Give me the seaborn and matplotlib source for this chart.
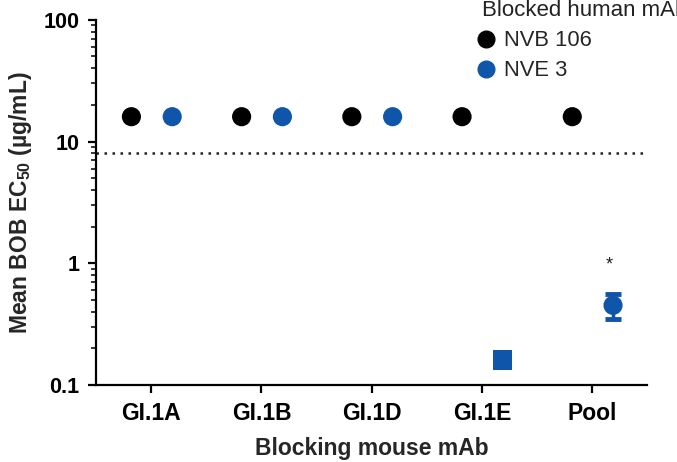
import numpy as np
import pandas as pd
import matplotlib
matplotlib.use("Agg")
import matplotlib.pyplot as plt
import seaborn as sns
from matplotlib.ticker import LogLocator, NullFormatter
from matplotlib.lines import Line2D

# ---- data ----
categories = ["GI.1A", "GI.1B", "GI.1D", "GI.1E", "Pool"]
nvb106_values = [16, 16, 16, 16, 16]
nve3_values = [16, 16, 16, 0.16, 0.45]
nve3_markers = ["o", "o", "o", "s", "o"]
nve3_err_low = [None, None, None, None, 0.35]
nve3_err_high = [None, None, None, None, 0.56]
threshold = 8
significance = ["", "", "", "", "*"]
series_names = ["NVB 106", "NVE 3"]
colors = {"NVB 106": "#000000", "NVE 3": "#0F56AA"}

sns.set_theme(style="ticks")
plt.rcParams["font.family"] = ["Liberation Sans", "DejaVu Sans"]
plt.rcParams["mathtext.fontset"] = "custom"
plt.rcParams["mathtext.bf"] = "Liberation Sans:bold"
plt.rcParams["mathtext.rm"] = "Liberation Sans"

rows = []
for i, c in enumerate(categories):
    rows.append(dict(cat=c, idx=i, series="NVB 106", value=nvb106_values[i], marker="o"))
    rows.append(dict(cat=c, idx=i, series="NVE 3", value=nve3_values[i], marker=nve3_markers[i]))
df = pd.DataFrame(rows)
offsets = {"NVB 106": -0.18, "NVE 3": 0.19}
df["x"] = df["idx"] + df["series"].map(offsets)

fig = plt.figure(figsize=(6.77, 4.62), dpi=100)
ax = fig.add_axes([0.142, 0.167, 0.814, 0.790])

sns.scatterplot(data=df, x="x", y="value", hue="series", style="marker",
                markers={"o": "o", "s": "s"}, palette=colors, s=190,
                edgecolor="none", ax=ax, legend=False, zorder=3)

# error bars and significance marks
for i in range(len(categories)):
    lo, hi = nve3_err_low[i], nve3_err_high[i]
    if lo is not None:
        v = nve3_values[i]
        ax.errorbar(i + offsets["NVE 3"], v, yerr=[[v - lo], [hi - v]],
                    fmt="none", ecolor=colors["NVE 3"], elinewidth=2.5,
                    capsize=5.5, capthick=3.5, zorder=2)
    if significance[i]:
        ax.text(i + offsets["NVE 3"] - 0.03, nve3_err_high[i] * 1.72, significance[i],
                ha="center", va="center", fontsize=13, color="#222222")

ax.axhline(threshold, ls=(0, (1, 2.2)), color="#222222", lw=1.8, zorder=1)

ax.set_yscale("log")
ax.set_ylim(0.1, 100)
ax.set_xlim(-0.5, len(categories) - 0.5)
ax.set_yticks([0.1, 1, 10, 100])
ax.set_yticklabels(["0.1", "1", "10", "100"], fontsize=15.5, fontweight="bold")
ax.yaxis.set_minor_locator(LogLocator(base=10, subs=np.arange(2, 10)))
ax.yaxis.set_minor_formatter(NullFormatter())
ax.set_xticks(range(len(categories)))
ax.set_xticklabels(categories, fontsize=16.5, fontweight="bold")

ax.set_xlabel("Blocking mouse mAb", fontsize=16.5, fontweight="bold", labelpad=9)
ax.set_ylabel("Mean BOB EC$_{\\mathbf{50}}$ (\u00b5g/mL)", fontsize=16.5,
              fontweight="bold", labelpad=7)

for side in ["top", "right"]:
    ax.spines[side].set_visible(False)
for side in ["left", "bottom"]:
    ax.spines[side].set_linewidth(1.6)
    ax.spines[side].set_color("black")
ax.tick_params(axis="both", which="major", direction="out", length=6, width=1.6,
               colors="black", pad=6)
ax.tick_params(axis="y", which="minor", direction="out", length=3.5, width=1.3)

# legend
handles = [Line2D([], [], marker="o", ls="none", color=colors[n], markersize=12)
           for n in series_names]
leg = fig.legend(handles, series_names, title="Blocked human mAb",
                 loc="upper left", bbox_to_anchor=(0.7116, 1.0), frameon=False,
                 fontsize=15.8, title_fontsize=16, handletextpad=0.6,
                 labelspacing=0.42, borderaxespad=0.0, borderpad=0.0,
                 handlelength=0.4)
leg._legend_box.align = "left"
leg.get_title().set_color("#222222")

fig.savefig("out.png", dpi=100)
